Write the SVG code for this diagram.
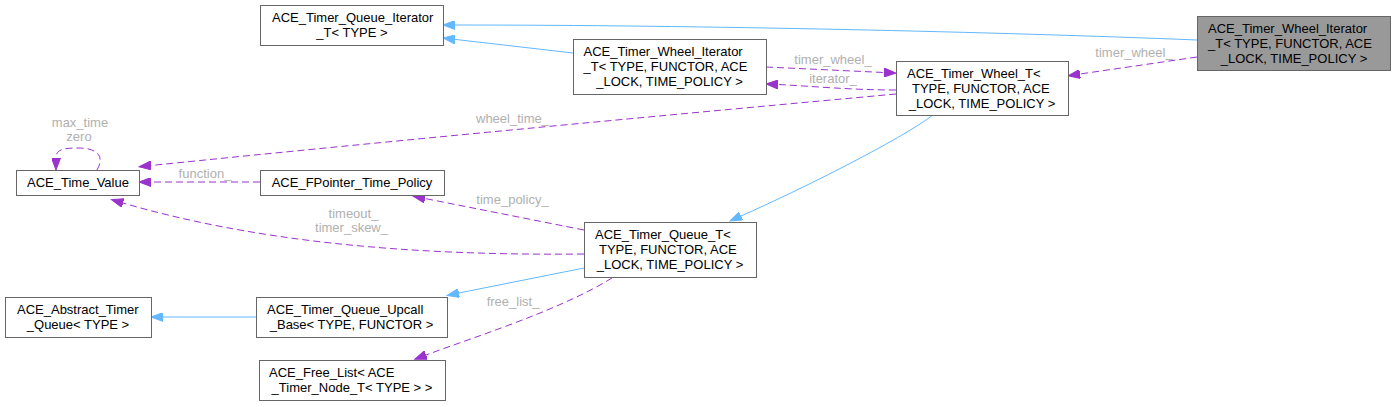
<svg xmlns="http://www.w3.org/2000/svg" width="1396" height="407" viewBox="0 0 1396 407">
<style>
.n rect{fill:#ffffff;stroke:#666666;stroke-width:1}
.n.main rect{fill:#999999}
.n text{font-family:"Liberation Sans",Arial,Helvetica,sans-serif;font-size:13px;fill:#000000}
.n text.c{text-anchor:middle}
.e path{fill:none;stroke-width:1}
.inh{stroke:#63b8ff}
.use{stroke:#9a32cd;stroke-dasharray:7,4}
.lbl{font-family:"Liberation Sans",Arial,Helvetica,sans-serif;font-size:13px;fill:#b0b0b0;text-anchor:middle}
</style>
<defs>
<marker id="ab" markerUnits="userSpaceOnUse" markerWidth="13" markerHeight="9" refX="0" refY="4.5" orient="auto" viewBox="0 0 13 9">
<path d="M0,0 L12,4.5 L0,9 Z" fill="#63b8ff" stroke="#63b8ff" stroke-width="1"/>
</marker>
<marker id="ap" markerUnits="userSpaceOnUse" markerWidth="13" markerHeight="9" refX="0" refY="4.5" orient="auto" viewBox="0 0 13 9">
<path d="M0,0 L12,4.5 L0,9 Z" fill="#9a32cd" stroke="#9a32cd" stroke-width="1"/>
</marker>
</defs>

<g id="edges" class="e">
<path class="inh" d="M1197,40 C1000,32 700,25 455,25" marker-end="url(#ab)"/>
<path class="inh" d="M573,53 L455,39.4" marker-end="url(#ab)"/>
<path class="inh" d="M933,115 C900,140 800,190 741,216" marker-end="url(#ab)"/>
<path class="inh" d="M584,268 L459,293" marker-end="url(#ab)"/>
<path class="inh" d="M256,317 L163,317" marker-end="url(#ab)"/>
<path class="use" d="M1197,57 L1080,74" marker-end="url(#ap)"/>
<path class="use" d="M766,67 L884,72.5" marker-end="url(#ap)"/>
<path class="use" d="M896,90 C850,90 810,86 778,84.5" marker-end="url(#ap)"/>
<path class="use" d="M896,94 C700,112 400,140 151,165.5" marker-end="url(#ap)"/>
<path class="use" d="M260,182 L151,182" marker-end="url(#ap)"/>
<path class="use" d="M97,170 C104,158 100,148 78,148 C62,148 56,150 56,158" marker-end="url(#ap)"/>
<path class="use" d="M584,230 L425,198.5" marker-end="url(#ap)"/>
<path class="use" d="M584,254 C400,256 250,240 123,203" marker-end="url(#ap)"/>
<path class="use" d="M612,278 C560,310 480,335 426,355" marker-end="url(#ap)"/>
<text class="lbl" x="80" y="127">max_time</text>
<text class="lbl" x="79" y="141">zero</text>
<text class="lbl" x="833" y="64">timer_wheel_</text>
<text class="lbl" x="833" y="83">iterator_</text>
<text class="lbl" x="512.5" y="123">wheel_time_</text>
<text class="lbl" x="1134" y="57">timer_wheel_</text>
<text class="lbl" x="205" y="178">function_</text>
<text class="lbl" x="512.5" y="204">time_policy_</text>
<text class="lbl" x="353.5" y="218">timeout_</text>
<text class="lbl" x="351.5" y="232">timer_skew_</text>
<text class="lbl" x="513" y="306">free_list_</text>
</g>

<g id="node_main" class="n main">
<rect x="1197.5" y="16.5" width="193" height="54"/>
<text x="1208" y="32.5">ACE_Timer_Wheel_Iterator</text>
<text x="1208" y="47.5">_T&lt; TYPE, FUNCTOR, ACE</text>
<text class="c" x="1294" y="62.5">_LOCK, TIME_POLICY &gt;</text>
</g>

<g id="node_queue_iterator" class="n">
<rect x="260.5" y="5.5" width="183" height="40"/>
<text x="272" y="21.5">ACE_Timer_Queue_Iterator</text>
<text class="c" x="352" y="36.5">_T&lt; TYPE &gt;</text>
</g>

<g id="node_wheel_iterator" class="n">
<rect x="573.5" y="39.5" width="193" height="55"/>
<text x="583.5" y="55.5">ACE_Timer_Wheel_Iterator</text>
<text x="583.5" y="70.5">_T&lt; TYPE, FUNCTOR, ACE</text>
<text class="c" x="669.5" y="85.5">_LOCK, TIME_POLICY &gt;</text>
</g>

<g id="node_wheel" class="n">
<rect x="896.5" y="61.5" width="172" height="54"/>
<text x="907" y="77.5">ACE_Timer_Wheel_T&lt;</text>
<text x="912" y="92.5">TYPE, FUNCTOR, ACE</text>
<text class="c" x="982" y="107.5">_LOCK, TIME_POLICY &gt;</text>
</g>

<g id="node_time_value" class="n">
<rect x="16.5" y="170.5" width="123" height="25"/>
<text class="c" x="78" y="187">ACE_Time_Value</text>
</g>

<g id="node_fpointer" class="n">
<rect x="260.5" y="170.5" width="184" height="25"/>
<text class="c" x="352" y="187">ACE_FPointer_Time_Policy</text>
</g>

<g id="node_queue" class="n">
<rect x="584.5" y="222.5" width="172" height="55"/>
<text x="595" y="238.5">ACE_Timer_Queue_T&lt;</text>
<text x="599" y="253.5">TYPE, FUNCTOR, ACE</text>
<text class="c" x="670" y="268.5">_LOCK, TIME_POLICY &gt;</text>
</g>

<g id="node_abstract" class="n">
<rect x="5.5" y="297.5" width="146" height="40"/>
<text x="17" y="313.5">ACE_Abstract_Timer</text>
<text class="c" x="78" y="328.5">_Queue&lt; TYPE &gt;</text>
</g>

<g id="node_upcall" class="n">
<rect x="256.5" y="297.5" width="191" height="40"/>
<text x="267" y="313.5">ACE_Timer_Queue_Upcall</text>
<text class="c" x="351.5" y="328.5">_Base&lt; TYPE, FUNCTOR &gt;</text>
</g>

<g id="node_free_list" class="n">
<rect x="259.5" y="360.5" width="186" height="40"/>
<text x="269" y="376.5">ACE_Free_List&lt; ACE</text>
<text class="c" x="352" y="391.5">_Timer_Node_T&lt; TYPE &gt; &gt;</text>
</g>
</svg>
